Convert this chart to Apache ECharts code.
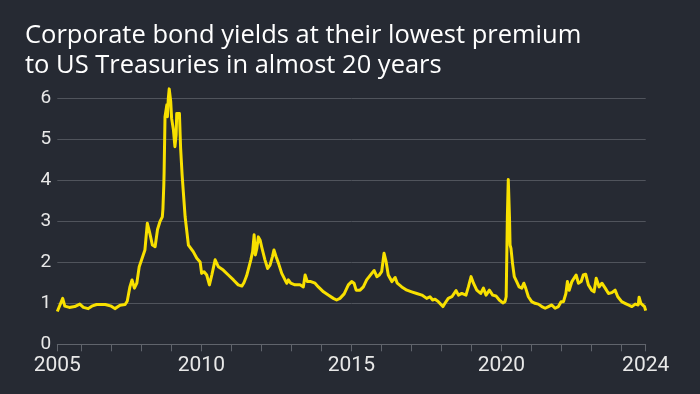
<!DOCTYPE html>
<html>
<head>
<meta charset="utf-8">
<style>
html,body{margin:0;padding:0;background:#262a33;}
#chart{width:700px;height:394px;}
</style>
<script src="https://cdn.jsdelivr.net/npm/echarts@6/dist/echarts.min.js"></script>
</head>
<body>
<div id="chart"></div>
<script>
var titleText = 'Corporate bond yields at their lowest premium\nto US Treasuries in almost 20 years';

var years = [
2005.20,2005.38,2005.45,2005.60,2005.78,2005.95,2006.07,2006.23,2006.35,2006.51,2006.80,2007.00,2007.12,2007.29,2007.46,2007.53,2007.62,2007.69,2007.77,2007.85,2007.93,2008.01,2008.12,2008.20,2008.27,2008.37,2008.46,2008.54,2008.62,2008.70,2008.72,2008.75,2008.76,2008.79,2008.85,2008.87,2008.90,2008.93,2008.98,2009.01,2009.07,2009.12,2009.16,2009.18,2009.23,2009.27,2009.31,2009.36,2009.40,2009.46,2009.51,2009.57,2009.65,2009.73,2009.85,2009.96,2010.01,2010.09,2010.18,2010.27,2010.35,2010.46,2010.57,2010.62,2010.73,2010.90,
2011.07,2011.23,2011.35,2011.42,2011.51,2011.57,2011.65,2011.71,2011.76,2011.80,2011.85,2011.90,2011.96,2012.01,2012.12,2012.21,2012.29,2012.37,2012.42,2012.49,2012.57,2012.68,2012.79,2012.85,2012.90,2012.98,2013.12,2013.29,2013.40,2013.46,2013.53,2013.65,2013.79,2013.90,2014.07,2014.23,2014.40,2014.51,2014.62,2014.76,2014.90,2015.01,2015.09,2015.16,2015.29,2015.40,2015.51,2015.68,2015.76,2015.85,2015.93,2016.01,2016.09,2016.16,2016.23,2016.35,2016.46,2016.53,2016.68,2016.85,2017.01,2017.18,2017.35,2017.51,2017.62,2017.71,2017.79,2017.90,2018.05,2018.12,2018.23,2018.35,2018.49,2018.57,2018.68,2018.82,2018.90,2018.99,2019.07,2019.18,2019.31,2019.40,2019.49,2019.60,2019.71,2019.82,2019.93,
2020.05,2020.12,2020.16,2020.20,2020.23,2020.27,2020.29,2020.32,2020.37,2020.43,2020.51,2020.59,2020.68,2020.75,2020.81,2020.90,2021.01,2021.12,2021.23,2021.35,2021.46,2021.57,2021.68,2021.79,2021.90,2021.99,2022.07,2022.15,2022.20,2022.26,2022.35,2022.42,2022.49,2022.57,2022.66,2022.73,2022.81,2022.90,2023.01,2023.09,2023.16,2023.21,2023.26,2023.35,2023.46,2023.57,2023.68,2023.79,2023.88,2024.01,2024.12,2024.23,2024.35,2024.46,2024.56,2024.59,2024.65,2024.70,2024.77,2024.81
];

var spreads = [
0.80,1.12,0.93,0.90,0.92,0.98,0.90,0.87,0.93,0.97,0.97,0.93,0.87,0.95,0.97,1.05,1.40,1.57,1.37,1.49,1.89,2.06,2.30,2.95,2.75,2.42,2.38,2.80,2.99,3.11,3.30,3.89,4.21,5.55,5.84,5.55,6.00,6.23,5.92,5.51,5.23,4.82,5.10,5.63,5.67,5.63,4.78,4.13,3.72,3.11,3.07,2.42,2.34,2.26,2.10,2.01,1.73,1.77,1.69,1.45,1.69,2.06,1.89,1.89,1.81,1.69,
1.57,1.45,1.42,1.50,1.67,1.64,2.06,2.26,2.67,2.18,2.34,2.62,2.54,2.38,2.06,1.85,1.93,2.14,2.30,2.14,1.98,1.73,1.57,1.49,1.57,1.49,1.45,1.45,1.40,1.69,1.53,1.53,1.49,1.40,1.28,1.20,1.12,1.08,1.12,1.23,1.45,1.53,1.49,1.32,1.32,1.40,1.57,1.73,1.80,1.65,1.69,1.77,2.22,2.01,1.69,1.53,1.63,1.49,1.40,1.32,1.28,1.24,1.20,1.12,1.16,1.08,1.10,1.04,0.92,1.00,1.12,1.16,1.31,1.20,1.24,1.20,1.40,1.65,1.49,1.32,1.24,1.37,1.20,1.32,1.20,1.18,1.08,
1.01,1.04,1.16,3.11,4.02,3.11,2.42,2.34,1.98,1.65,1.53,1.40,1.37,1.49,1.37,1.16,1.04,1.00,0.98,0.92,0.88,0.92,0.96,0.88,0.92,1.04,1.04,1.24,1.53,1.32,1.53,1.61,1.69,1.49,1.53,1.69,1.71,1.45,1.32,1.28,1.61,1.65,1.40,1.49,1.37,1.24,1.26,1.32,1.16,1.04,1.00,0.96,0.92,0.98,0.96,1.15,1.00,1.04,0.92,0.82
];

var xTickValues = [2005.2,2006,2007,2008,2009,2010,2011,2012,2013,2014,2015,2016,2017,2018,2019,2020,2021,2022,2023,2024,2024.81];
var xLabelValues = [2005.2,2010,2015,2020,2024.81];
var xLabelTexts = ['2005','2010','2015','2020','2024'];
var yTicks = [0,1,2,3,4,5,6];

var seriesData = years.map(function(y,i){ return [y, spreads[i]]; });

var chart = echarts.init(document.getElementById('chart'), null, {renderer:'canvas'});
chart.setOption({
  backgroundColor:'#262a33',
  animation:false,
  title:{
    text:titleText,
    left:20, top:15,
    textStyle:{color:'#ffffff', fontFamily:'Open Sans', fontSize:25.5, fontWeight:'normal', lineHeight:30.5}
  },
  grid:{left:57.3, right:54.3, top:98.3, bottom:49.7, containLabel:false},
  xAxis:{
    type:'value', min:2005.2, max:2024.81,
    axisLine:{show:true, lineStyle:{color:'#60646c', width:1}},
    axisTick:{show:true, length:7, customValues:xTickValues, lineStyle:{color:'#60646c'}},
    axisLabel:{
      customValues:xLabelValues,
      color:'#e8e8e8', fontFamily:'Roboto', fontSize:21, margin:11,
      formatter:function(v){
        for (var i=0;i<xLabelValues.length;i++){ if (Math.abs(xLabelValues[i]-v)<0.01) return xLabelTexts[i]; }
        return '';
      }
    },
    splitLine:{show:false}
  },
  yAxis:{
    type:'value', min:0, max:6, interval:1,
    axisLine:{show:false}, axisTick:{show:false},
    axisLabel:{color:'#e8e8e8', fontFamily:'Roboto', fontSize:19, margin:6,
      formatter:function(v){ return yTicks.indexOf(v)>=0 ? String(v) : ''; }},
    splitLine:{show:true, lineStyle:{color:'#50545c', width:1}}
  },
  series:[{
    type:'line', data:seriesData, showSymbol:false, clip:false,
    lineStyle:{color:'#f8e000', width:3, join:'round'},
    z:5
  }]
});
</script>
</body>
</html>
